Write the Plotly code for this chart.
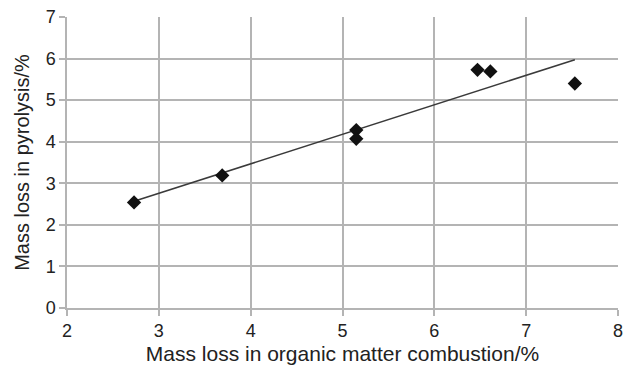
import numpy as np
import plotly.graph_objects as go

# Data
x_combustion = [2.73, 3.69, 5.15, 5.15, 6.47, 6.61, 7.53]
y_pyrolysis = [2.54, 3.19, 4.28, 4.07, 5.73, 5.69, 5.40]
x_ticks = [2, 3, 4, 5, 6, 7, 8]
y_ticks = [0, 1, 2, 3, 4, 5, 6, 7]

slope, intercept = np.polyfit(x_combustion, y_pyrolysis, 1)
fit_x = [min(x_combustion), max(x_combustion)]
fit_y = [slope * v + intercept for v in fit_x]

FONT = "Liberation Sans, Arial, sans-serif"

fig = go.Figure()
fig.add_trace(go.Scatter(x=fit_x, y=fit_y, mode="lines",
                         line=dict(color="#3a3a3a", width=1.5),
                         hoverinfo="skip", showlegend=False))
fig.add_trace(go.Scatter(x=x_combustion, y=y_pyrolysis, mode="markers",
                         marker=dict(symbol="diamond", size=11, color="#111111"),
                         showlegend=False))

axis_common = dict(showgrid=True, gridcolor="#b4b4b4", gridwidth=1.5,
                   showline=True, linecolor="#b4b4b4", linewidth=1.5,
                   ticks="outside", ticklen=6, tickcolor="#b4b4b4", tickwidth=1.5,
                   zeroline=False, mirror=False, ticklabeloverflow="allow",
                   tickfont=dict(family=FONT, size=18, color="#222222"))

fig.update_xaxes(range=[2, 8], tickvals=x_ticks, **axis_common,
                 title=dict(text="Mass loss in organic matter combustion/%",
                            font=dict(family=FONT, size=21, color="#222222"),
                            standoff=6))
fig.update_yaxes(range=[0, 7], tickvals=y_ticks, **axis_common,
                 title=dict(text="Mass loss in pyrolysis/%",
                            font=dict(family=FONT, size=20, color="#222222"),
                            standoff=11))

fig.update_layout(width=628, height=369,
                  margin=dict(l=67, r=5, t=17, b=61),
                  plot_bgcolor="white", paper_bgcolor="white")

fig.write_html("out.html")
